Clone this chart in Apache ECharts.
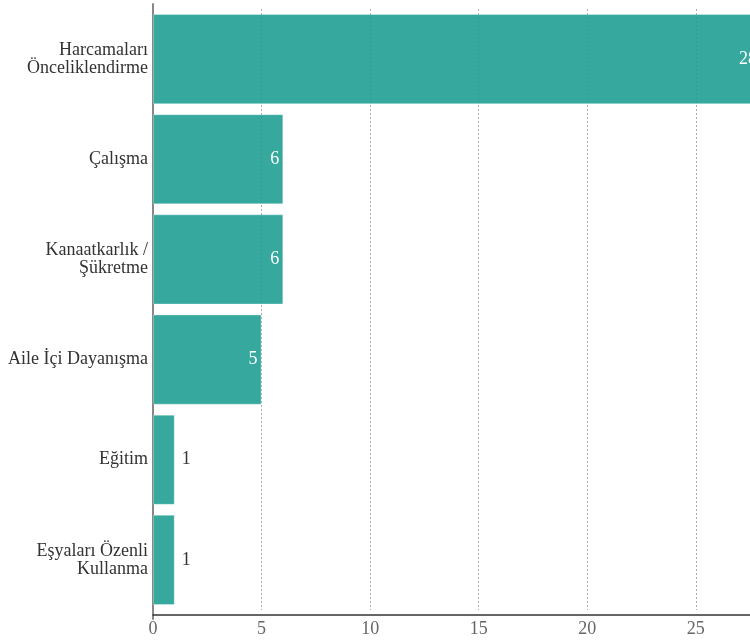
<!DOCTYPE html>
<html><head><meta charset="utf-8">
<script src="https://cdn.jsdelivr.net/npm/echarts@6/dist/echarts.min.js"></script>
<style>html,body{margin:0;padding:0;background:#fff}#c{width:750px;height:640px}</style>
</head><body><div id="c"></div>
<script>
const categories = ["Harcamaları\nÖnceliklendirme", "Çalışma", "Kanaatkarlık /\nŞükretme", "Aile İçi Dayanışma", "Eğitim", "Eşyaları Özenli\nKullanma"];
const values = [28, 6, 6, 5, 1, 1];
const xTicks = [0, 5, 10, 15, 20, 25];

const font = "'Liberation Serif', 'Times New Roman', serif";
const chart = echarts.init(document.getElementById('c'));
chart.setOption({
  animation: false,
  grid: [
    { left: 153, top: 9, bottom: 30, width: 608, outerBoundsMode: 'none' },
    { left: 153, top: 4, bottom: 21, width: 608, outerBoundsMode: 'none' }
  ],
  xAxis: [{
    type: 'value', min: 0, max: 28, interval: 5, gridIndex: 0, offset: 4.5,
    axisLine: { show: true, lineStyle: { color: '#333', width: 1.5 } },
    axisTick: { show: false },
    axisLabel: { color: '#666', fontFamily: font, fontSize: 18, margin: 6,
      formatter: v => xTicks.includes(v) ? String(v) : '' },
    splitLine: { show: true, lineStyle: { color: '#aaa', type: [2, 2] } }
  }, {
    type: 'value', min: 0, max: 28, gridIndex: 1, show: false
  }],
  yAxis: [{
    type: 'category', inverse: true, data: categories, gridIndex: 0,
    axisLine: { show: false },
    axisTick: { show: false },
    axisLabel: { color: '#333', fontFamily: font, fontSize: 18, margin: 5, lineHeight: 18, align: 'right',
      padding: [3, 0, 0, 0] }
  }, {
    type: 'value', min: 0, max: 1, gridIndex: 1,
    axisLine: { show: true, lineStyle: { color: '#888', width: 2 } },
    axisTick: { show: false }, axisLabel: { show: false }, splitLine: { show: false }
  }],
  series: [{
    type: 'bar', barCategoryGap: '10%', xAxisIndex: 0, yAxisIndex: 0,
    data: values.map(v => v <= 1
      ? { value: v, label: { position: 'right', color: '#333', distance: 7 } }
      : { value: v }),
    itemStyle: { color: 'rgba(32,159,147,0.9)', borderColor: 'rgba(255,255,255,0.3)', borderWidth: 1 },
    label: { show: true, position: 'insideRight', distance: 4, color: '#fff', fontFamily: font, fontSize: 18 }
  }]
});
</script></body></html>
